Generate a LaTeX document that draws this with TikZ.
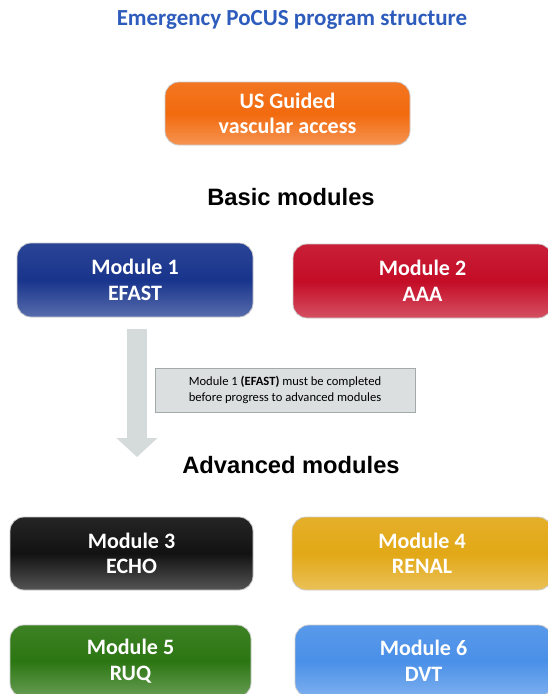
\documentclass[tikz,border=0pt]{standalone}
\usepackage{fontspec}
\setmainfont{Carlito}
\newfontfamily\headfont{Liberation Sans}
\usepackage{tikz}
\usetikzlibrary{calc, positioning, arrows.meta}

\definecolor{titleblue}{RGB}{46,92,188}
\definecolor{usorange}{RGB}{242,106,14}
\definecolor{efastblue}{RGB}{24,52,140}
\definecolor{aaared}{RGB}{196,12,38}
\definecolor{echoblack}{RGB}{18,18,18}
\definecolor{renalgold}{RGB}{226,168,22}
\definecolor{ruqgreen}{RGB}{44,118,18}
\definecolor{dvtblue}{RGB}{74,144,232}
\definecolor{flowgray}{RGB}{213,218,218}
\definecolor{notefill}{RGB}{220,223,223}
\definecolor{noteline}{RGB}{163,170,170}

\begin{document}
\begin{tikzpicture}[x=1pt, y=-1pt,
  module/.style={rounded corners=14pt, draw=gray!40, line width=0.8pt, text=white,
    align=center, inner sep=0pt, font=\bfseries\fontsize{22}{25.5}\selectfont},
  glossy/.style={top color=#1!92!white, bottom color=#1!72!white, middle color=#1},
  heading/.style={font=\headfont\bfseries\fontsize{23.7}{27}\selectfont},
  note/.style={draw=noteline, fill=notefill, line width=0.8pt, align=center,
    minimum width=260pt, minimum height=44pt, font=\fontsize{12.6}{16}\selectfont}]
  \useasboundingbox (0,0) rectangle (548,694);
  \node (title) at (292,20) [text=titleblue, font=\bfseries\fontsize{23}{26}\selectfont] {Emergency PoCUS program structure};
  \node (usga) at (287.5,113.5) [module, glossy=usorange, minimum width=245pt, minimum height=63pt] {US Guided\\vascular access};
  \node (basic) at (291,197) [heading] {Basic modules};
  \node (m1) at (135,280) [module, glossy=efastblue, minimum width=236pt, minimum height=74pt] {Module 1\\EFAST};
  \node (m2) at (422.5,281) [module, glossy=aaared, minimum width=259pt, minimum height=74pt] {Module 2\\AAA};
  \node (rule) at (285,390) [note] {Module 1 \textbf{(EFAST)} must be completed\\before progress to advanced modules};
  \coordinate (flowend) at (137,457);
  \draw [flowgray, line width=20pt, -{Triangle[width=40pt, length=19pt]}] ([xshift=2pt, yshift=-12pt]m1.south) -- (flowend);
  \node (advanced) at (291,465) [heading] {Advanced modules};
  \node (m3) at (131.5,553.5) [module, glossy=echoblack, minimum width=243pt, minimum height=73pt] {Module 3\\ECHO};
  \node (m4) at (422,553.5) [module, glossy=renalgold, minimum width=260pt, minimum height=73pt] {Module 4\\RENAL};
  \node (m5) at (130.5,661) [module, glossy=ruqgreen, minimum width=241pt, minimum height=72pt] {Module 5\\RUQ};
  \node (m6) at (423.5,661) [module, glossy=dvtblue, minimum width=257pt, minimum height=72pt] {Module 6\\DVT};
\end{tikzpicture}
\end{document}
